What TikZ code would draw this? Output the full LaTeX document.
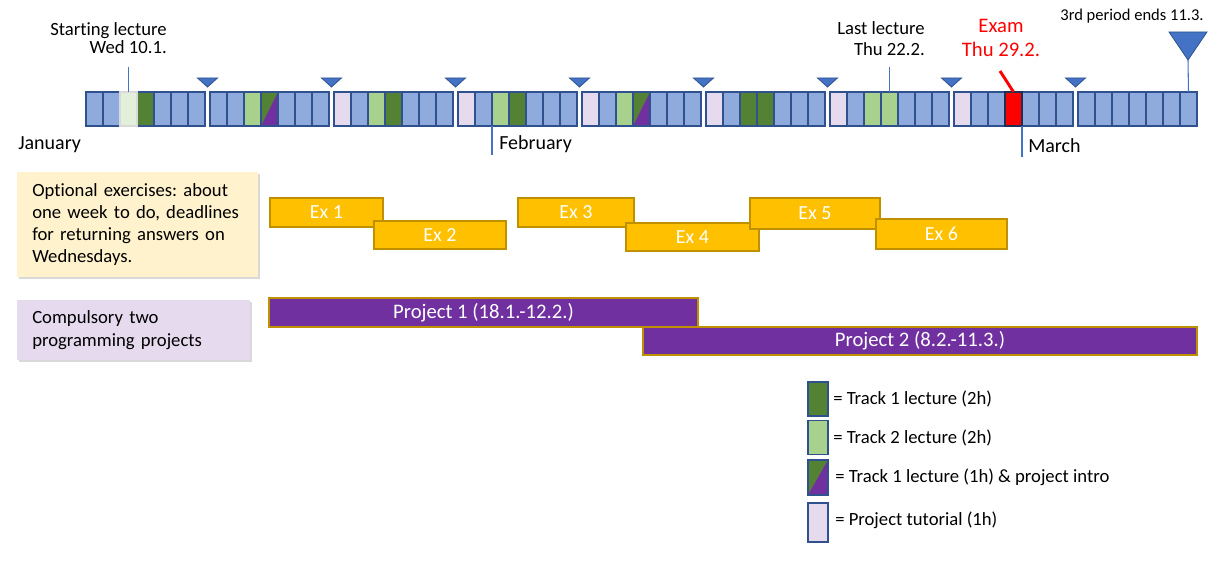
\documentclass[tikz,border=0pt]{standalone}
\usepackage{fontspec}
\setmainfont{Carlito}[Ligatures=NoCommon]
\usetikzlibrary{positioning, shadows}
\frenchspacing

\definecolor{dayblue}{HTML}{8FAADC}
\definecolor{dayline}{HTML}{2F528F}
\definecolor{trackone}{HTML}{548235}
\definecolor{tracktwo}{HTML}{A9D18E}
\definecolor{tutorial}{HTML}{E6DAEF}
\definecolor{projpurple}{HTML}{7030A0}
\definecolor{startday}{HTML}{E2EFDA}
\definecolor{exgold}{HTML}{FFC000}
\definecolor{goldline}{HTML}{BF9000}
\definecolor{notebg}{HTML}{FFF2CC}
\definecolor{projbg}{HTML}{E6DAEE}
\definecolor{markblue}{HTML}{4472C4}

\tikzset{
  day/.style={rectangle, draw=dayline, line width=1pt, fill=#1, outer sep=0pt,
    minimum width=12.75pt, minimum height=25.5pt, inner sep=0pt},
  weekmark/.style={fill=markblue, draw=dayline, line width=0.6pt},
  lead/.style={draw=markblue, line width=0.8pt},
  lbl/.style={font=\fontsize{14}{15}\selectfont, inner sep=0pt},
  month/.style={font=\fontsize{15}{17}\selectfont, inner sep=0pt},
  exbox/.style={rectangle, fill=exgold, draw=goldline, line width=1.2pt, text=white,
    font=\fontsize{15}{17}\selectfont, inner sep=0pt},
  projbar/.style={rectangle, fill=projpurple, draw=goldline, line width=1.2pt, text=white,
    font=\fontsize{15.5}{17}\selectfont, inner sep=0pt},
  note/.style={rectangle, align=left, inner xsep=11.25pt, inner ysep=0pt,
    drop shadow={shadow xshift=1.2pt, shadow yshift=-1.2pt, opacity=0.25, fill=black!60}},
}

\begin{document}
\begin{tikzpicture}[x=0.75pt, y=-0.75pt]

    \useasboundingbox (0,0) rectangle (1218,566);

    %calendar days
    \foreach \w/\days in {
        1/{dayblue,dayblue,startday,trackone,dayblue,dayblue,dayblue},
        2/{dayblue,dayblue,tracktwo,trackone,dayblue,dayblue,dayblue},
        3/{tutorial,dayblue,tracktwo,trackone,dayblue,dayblue,dayblue},
        4/{tutorial,dayblue,tracktwo,trackone,dayblue,dayblue,dayblue},
        5/{tutorial,dayblue,tracktwo,trackone,dayblue,dayblue,dayblue},
        6/{tutorial,dayblue,trackone,trackone,dayblue,dayblue,dayblue},
        7/{tutorial,dayblue,tracktwo,tracktwo,dayblue,dayblue,dayblue},
        8/{tutorial,dayblue,dayblue,red,dayblue,dayblue,dayblue},
        9/{dayblue,dayblue,dayblue,dayblue,dayblue,dayblue,dayblue}}
        \foreach \c [count=\d] in \days
            \node[day=\c] (d-\w-\d) at ({124*\w+17*\d-46.5}, 109) {};

    %lecture + project intro days
    \foreach \n in {d-2-4, d-5-4} {
        \fill[projpurple] (\n.south west) -- (\n.south east) -- (\n.north east) -- cycle;
        \draw[dayline, line width=1pt] (\n.south west) rectangle (\n.north east);
    }
    \node[day=startday, draw=black!15] at (d-1-3) {};
    \node[day=red, draw=dayline!60!black, line width=2pt] at (d-8-4) {};

    %week marks
    \foreach \x in {207.5,331.5,455.5,579.5,703.5,827.5,951.5,1075.5}
        \filldraw[weekmark] (\x-10,78) -- (\x+10,78) -- (\x,87) -- cycle;
    \filldraw[weekmark] (1169,32) -- (1207,32) -- (1188,60) -- cycle;

    %labels above
    \node[lbl, align=right, anchor=base east, font=\fontsize{14}{14}\selectfont] (startlbl) at (167,54) {Starting lecture\\Wed 10.1.};
    \node[lbl, align=right, anchor=base east, font=\fontsize{14}{16}\selectfont] (lastlbl) at (925,56) {Last lecture\\Thu 22.2.};
    \node[lbl, align=center, anchor=base, text=red, font=\fontsize{15.5}{18}\selectfont] (examlbl) at (1001,57) {Exam\\Thu 29.2.};
    \node[lbl, anchor=base, font=\fontsize{12.4}{14}\selectfont] (endlbl) at (1132,21) {3rd period ends 11.3.};

    \coordinate (startfoot) at (128.5,67);
    \coordinate (lastfoot) at (889.5,67);
    \coordinate (examfoot) at (1000,71);
    \coordinate (endtip) at (1188,60);
    \draw[lead] (startfoot) -- (d-1-3.north);
    \draw[lead] (lastfoot) -- (d-7-4.north);
    \draw[red, line width=2.2pt] (examfoot) -- (d-8-4.north);
    \draw[lead] (endtip) -- (d-9-7.north);

    %months
    \node[month, anchor=base west] (jan) at (18,150) {January};
    \node[month, anchor=base west] (feb) at (499,150) {February};
    \node[month, anchor=base west] (mar) at (1028,153) {March};
    \coordinate (febfoot) at (492,155);
    \coordinate (marfoot) at (1022,157);
    \draw[lead] (d-4-3.south west) -- (febfoot);
    \draw[lead] (d-8-4.south east) -- (marfoot);

    %notes
    \node[note, fill=notebg, text width=158.25pt, minimum height=78.75pt, anchor=north west,
        font=\fontsize{14}{16.5}\selectfont] (exnote) at (17,172)
        {Optional exercises: about\\one week to do, deadlines\\for returning answers on\\Wednesdays.};
    \node[note, fill=projbg, text width=152.25pt, minimum height=45pt, anchor=north west,
        font=\fontsize{14}{17}\selectfont] (projnote) at (17,300)
        {Compulsory two\\programming projects};

    %exercises
    \foreach \a/\b/\t/\u/\n in {270/383/198/227/1, 374/506/221/249/2, 518/634/198/227/3,
        626/759/223/251/4, 750/880/198/229/5, 876/1007/219/249/6}
        \node[exbox, minimum width={(\b-\a)*0.75pt}, minimum height={(\u-\t)*0.75pt}]
            (ex\n) at ({(\a+\b)/2},{(\t+\u)/2}) {Ex \n};

    %projects
    \node[projbar, minimum width=321.75pt, minimum height=21.75pt] (proj1) at (483.5,312.5) {Project 1 (18.1.-12.2.)};
    \node[projbar, minimum width=415.5pt, minimum height=21pt] (proj2) at (920,341) {Project 2 (8.2.-11.3.)};

    %legend
    \node[day=trackone, minimum width=15pt] (key1) at (818,399) {};
    \node[day=tracktwo, minimum width=15pt] (key2) at (818,437.5) {};
    \node[day=trackone, minimum width=15pt, minimum height=26.25pt] (key3) at (818,477.5) {};
    \fill[projpurple] (key3.south west) -- (key3.south east) -- (key3.north east) -- cycle;
    \draw[dayline, line width=1pt] (key3.south west) rectangle (key3.north east);
    \node[day=tutorial, minimum width=15pt, minimum height=29.25pt] (key4) at (818,522.5) {};

    \node[lbl, right=3.75pt of key1] (keytxt1) {= Track 1 lecture (2h)};
    \node[lbl, right=3.75pt of key2] (keytxt2) {= Track 2 lecture (2h)};
    \node[lbl, right=5.25pt of key3] (keytxt3) {= Track 1 lecture (1h) \& project intro};
    \node[lbl, right=5.25pt of key4, yshift=2pt] (keytxt4) {= Project tutorial (1h)};

\end{tikzpicture}
\end{document}
